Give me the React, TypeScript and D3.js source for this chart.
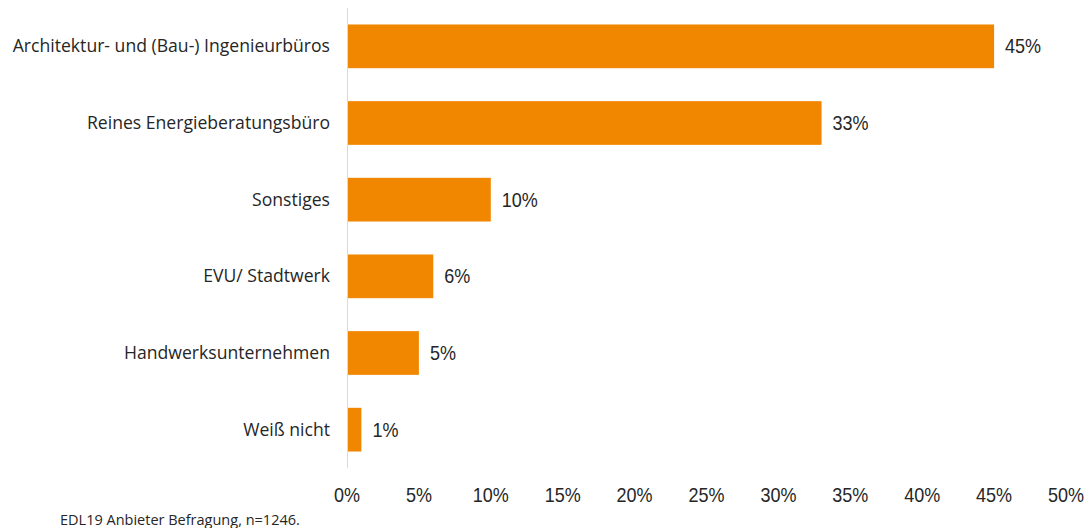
import React from "react";
import * as d3 from "d3";

const categories = [
  "Architektur- und (Bau-) Ingenieurbüros",
  "Reines Energieberatungsbüro",
  "Sonstiges",
  "EVU/ Stadtwerk",
  "Handwerksunternehmen",
  "Weiß nicht",
];
const values = [45, 33, 10, 6, 5, 1];
const ticks = [0, 5, 10, 15, 20, 25, 30, 35, 40, 45, 50];
const footnote = "EDL19 Anbieter Befragung, n=1246.";

const W = 1089;
const H = 528;
const left = 347;
const right = 1066;
const top = 8;
const bottom = 468;

const catFont = "'Open Sans', Lato, sans-serif";
const numFont = "'Liberation Sans', Arial, sans-serif";

function Num({ x, y, anchor, children }: { x: number; y: number; anchor: string; children: React.ReactNode }) {
  return (
    <g transform={`translate(${x},${y}) scale(0.9,1)`}>
      <text
        x={0}
        y={0}
        textAnchor={anchor}
        fontFamily={numFont}
        fontSize={20}
        fill="#262626"
      >
        {children}
      </text>
    </g>
  );
}

export default function App() {
  const x = d3.scaleLinear().domain([0, 50]).range([left, right]);
  const y = d3
    .scaleBand<string>()
    .domain(categories)
    .range([top, bottom])
    .paddingInner(0.43)
    .paddingOuter(0.215);
  return (
    <svg
      width={W}
      height={H}
      style={{ position: "absolute", left: 0, top: 0, background: "#fff" }}
    >
      <line x1={left + 0.5} x2={left + 0.5} y1={top} y2={bottom} stroke="#d9d9d9" strokeWidth={1} />
      {categories.map((c, i) => {
        const yy = y(c)!;
        const bw = y.bandwidth();
        return (
          <g key={c}>
            <rect x={x(0) + 1} y={yy} width={x(values[i]) - x(0) - 1} height={bw} fill="#F18700" />
            <text
              x={left - 17}
              y={yy + bw / 2 + 6}
              textAnchor="end"
              fontFamily={catFont}
              fontSize={17.6}
              fill="#262626"
            >
              {c}
            </text>
            <Num x={x(values[i]) + 11} y={yy + bw / 2 + 7} anchor="start">
              {values[i]}%
            </Num>
          </g>
        );
      })}
      {ticks.map((t) => (
        <Num key={t} x={x(t)} y={502} anchor="middle">
          {t}%
        </Num>
      ))}
      <text x={60} y={525} fontFamily={catFont} fontSize={14.5} fill="#262626">
        {footnote}
      </text>
    </svg>
  );
}
